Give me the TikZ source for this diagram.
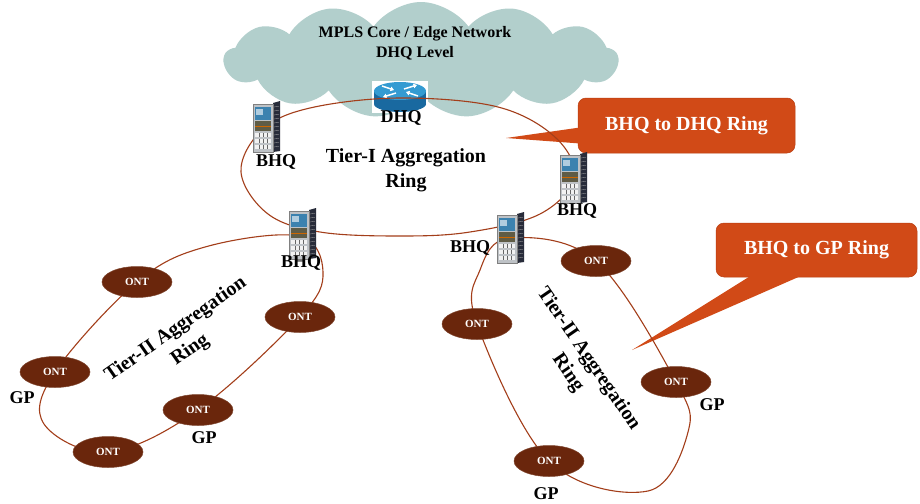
\documentclass[tikz,border=0pt]{standalone}
\usepackage{fontspec}
\setmainfont{Liberation Serif}
\usetikzlibrary{shapes.symbols,shapes.geometric,arrows.meta}
\definecolor{cloudc}{RGB}{178,207,204}
\definecolor{ringc}{RGB}{163,62,26}
\definecolor{ontc}{RGB}{106,38,12}
\definecolor{callc}{RGB}{209,74,23}
\definecolor{callb}{RGB}{185,62,18}
\definecolor{rtlight}{RGB}{52,155,210}
\definecolor{rtdark}{RGB}{25,105,160}
\definecolor{srvdark}{RGB}{40,44,58}
\definecolor{srvgrey}{RGB}{190,194,198}
\definecolor{srvblue}{RGB}{60,130,175}
\definecolor{srvolive}{RGB}{95,92,70}
\tikzset{
  server/.pic={
    \node[inner sep=0pt, minimum width=28pt, minimum height=50pt] (-n) {};
    \fill[srvdark] (7,-24) -- (14,-26) -- (14,24) -- (7,25) -- cycle;
    \foreach \yy in {-20,-16,...,22} \draw[gray!70, line width=0.3pt] (8,\yy) -- (13,\yy-0.8);
    \fill[srvgrey] (-13,-23) rectangle (7,25);
    \fill[srvblue] (-11,-20) rectangle (5,-7);
    \fill[white!60!srvblue] (-10,-18) rectangle (-3,-12);
    \fill[srvolive] (-11,-6) rectangle (5,4);
    \draw[orange!80!black, line width=0.6pt] (-11,-1) -- (5,-1);
    \foreach \yy in {6,12,18} {
      \fill[white!90!gray] (-11,\yy) rectangle (5,\yy+4);
      \draw[black!60, line width=0.4pt] (-7,\yy) -- ++(0,4) (-3,\yy) -- ++(0,4) (1,\yy) -- ++(0,4);
    }
    \draw[black!50, line width=0.3pt] (-13,-23) rectangle (7,25);
  },
  router/.pic={
    \node[inner sep=0pt, minimum width=56pt, minimum height=32pt] (-n) {};
    \fill[white] (-28,-16) rectangle (28,16);
    \fill[rtdark] (-26,-6) rectangle (26,7);
    \fill[rtdark] (0,7) ellipse [x radius=26, y radius=8];
    \fill[rtlight] (0,-6) ellipse [x radius=26, y radius=9];
    \begin{scope}[white, line width=1.5pt, -{Triangle[length=3.5pt,width=4.5pt]}]
      \draw (-18,-11) -- (-6,-7);
      \draw (18,-1) -- (6,-5);
      \draw (4,-8) -- (17,-12);
      \draw (-4,-4) -- (-17,0);
    \end{scope}
  }
}
\begin{document}
\begin{tikzpicture}[x=1pt,y=-1pt,
  ont/.style={ellipse, fill=ontc, draw=ontc!85!white, line width=0.5pt, minimum width=70pt, minimum height=31pt, inner sep=0pt, text=white, font=\bfseries\fontsize{11}{12}\selectfont},
  lbl/.style={inner sep=0pt, font=\bfseries\fontsize{18}{20}\selectfont},
  ring/.style={draw=ringc, line width=1.1pt},
  callbox/.style={fill=callc, draw=callb, line width=0.5pt, rounded corners=8pt, inner sep=0pt, text=white, font=\bfseries\fontsize{20}{22}\selectfont},
  ringlbl/.style={inner sep=0pt, align=center, font=\bfseries\fontsize{20}{25}\selectfont}
]
\useasboundingbox (0,0) rectangle (920,503);
\fill[white] (0,0) rectangle (920,503);

% cloud
\node[cloud, cloud puffs=13, cloud puff arc=110, aspect=3.7, fill=cloudc, draw=none, minimum width=394pt, minimum height=116pt, inner sep=0pt] (cloud) at (421,60) {};
\node[inner sep=0pt, align=center, font=\bfseries\fontsize{16}{20}\selectfont] (cloudtxt) at (415,43) {MPLS Core / Edge Network\\DHQ Level};

% callouts
\node[callbox, minimum width=217pt, minimum height=55pt] (c1) at (686.5,125.5) {BHQ to DHQ Ring};
\fill[callc] (580,127.5) -- (506,138) -- (580,143.5) -- cycle;
\node[callbox, minimum width=201pt, minimum height=54pt] (c2) at (816.5,250) {BHQ to GP Ring};
\fill[callc] (752,275) -- (632,350) -- (803,275) -- cycle;

% router
\pic (dhq) at (400,97) {router};

% positions
\coordinate (pb1) at (266,127);
\coordinate (pb2) at (573,178);
\coordinate (pb3) at (302,234);
\coordinate (pb4) at (510,238);
\coordinate (po1) at (137,282);
\coordinate (po2) at (300,317);
\coordinate (po3) at (55,372);
\coordinate (po4) at (198,410);
\coordinate (po5) at (108,452);
\coordinate (pr1) at (596,261);
\coordinate (pr2) at (477,324);
\coordinate (pr3) at (676,382);
\coordinate (pr4) at (549,461);

% Tier-I ring
\draw[ring] plot[smooth cycle, tension=0.6] coordinates {(400,98) (498,107) (556,138) (574,178) (540,214) (470,232) (400,236) (320,232) (268,214) (241,172) (262,130) (310,108)};
% Tier-II rings
\draw[ring] plot[smooth cycle, tension=0.6] coordinates {(po1) (205,247) (298,236) (323,272) (po2) (po4) (po5) (44,424) (po3)};
\draw[ring] plot[smooth cycle, tension=0.6] coordinates {(pb4) (pr1) (pr3) (688,432) (648,491) (pr4) (pr2) (480,270)};

% servers
\pic (b1) at (pb1) {server};
\pic (b2) at (pb2) {server};
\pic (b3) at (pb3) {server};
\pic (b4) at (pb4) {server};

% ONTs
\node[ont] (o1) at (po1) {ONT};
\node[ont] (o2) at (po2) {ONT};
\node[ont] (o3) at (po3) {ONT};
\node[ont] (o4) at (po4) {ONT};
\node[ont] (o5) at (po5) {ONT};
\node[ont] (r1) at (pr1) {ONT};
\node[ont] (r2) at (pr2) {ONT};
\node[ont] (r3) at (pr3) {ONT};
\node[ont] (r4) at (pr4) {ONT};

% labels
\node[lbl] (ldhq) at (401,118) {DHQ};
\node[lbl] (lb1) at (276,162) {BHQ};
\node[lbl] (lb2) at (577,211) {BHQ};
\node[lbl] (lb3) at (301,263) {BHQ};
\node[lbl] (lb4) at (470,248) {BHQ};
\node[lbl] (g1) at (22,398) {GP};
\node[lbl] (g2) at (204,438) {GP};
\node[lbl] (g3) at (712,405) {GP};
\node[lbl] (g4) at (546,494) {GP};

\node[ringlbl] (t1) at (406,170) {Tier-I Aggregation\\Ring};
\node[ringlbl, rotate=35] (t2) at (183,340) {Tier-II Aggregation\\Ring};
\node[ringlbl, rotate=-55.5] (t3) at (578,366) {Tier-II Aggregation\\Ring};
\end{tikzpicture}
\end{document}
